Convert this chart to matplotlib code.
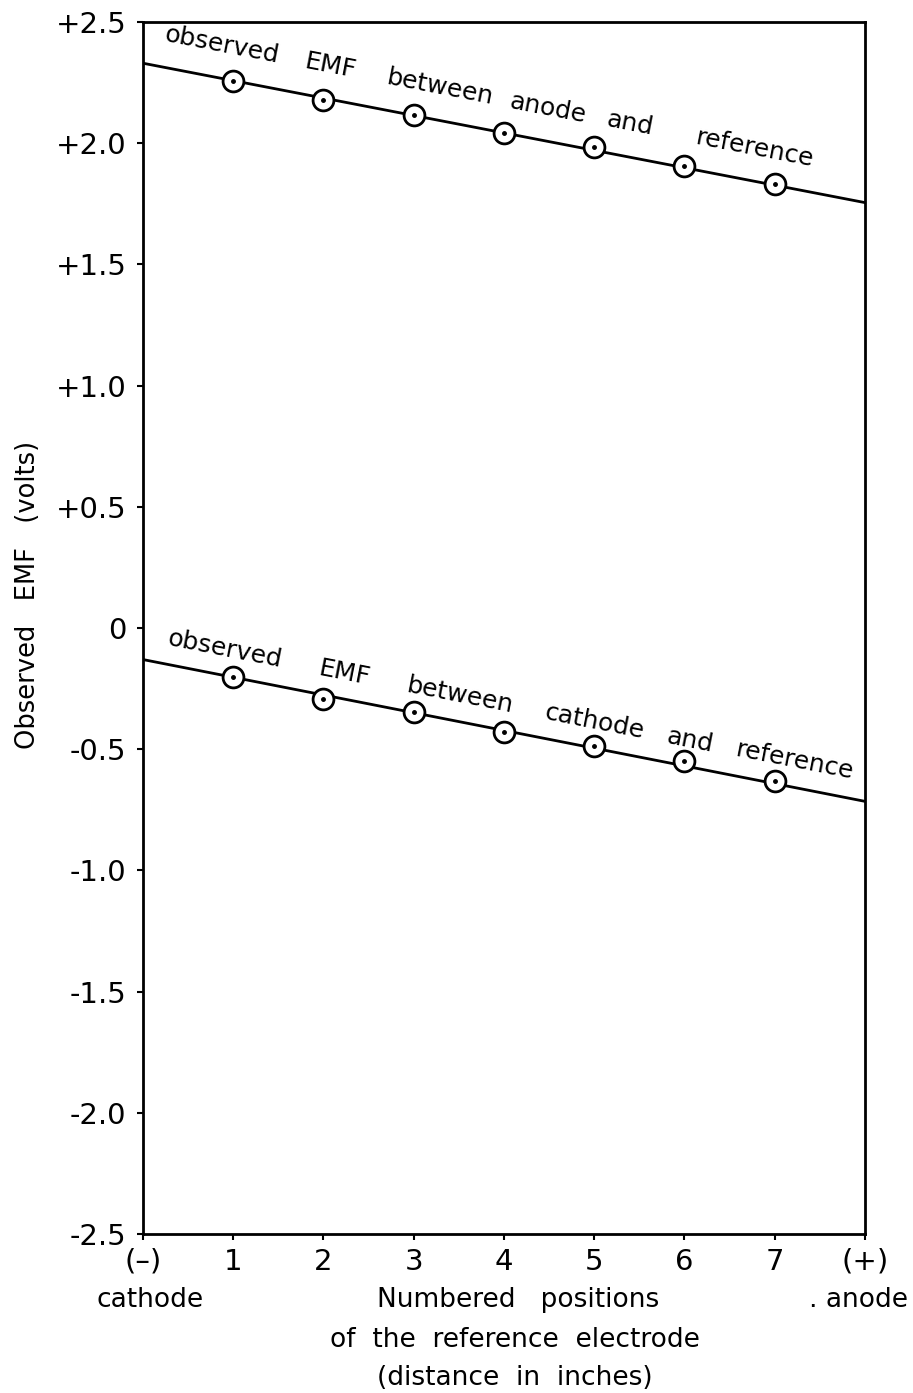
"""EMF between electrodes vs position of the reference electrode."""

import math

import matplotlib

matplotlib.use("Agg")
import matplotlib.pyplot as plt  # noqa: E402

# measured points (positions 1..7)
positions = [1, 2, 3, 4, 5, 6, 7]
emf_anode = [2.256, 2.178, 2.116, 2.041, 1.983, 1.905, 1.831]
emf_cathode = [-0.202, -0.293, -0.347, -0.43, -0.488, -0.55, -0.632]

# drawn straight lines, cathode (0) to anode (8)
line_x = [0, 8]
line_anode = [2.33, 1.755]
line_cathode = [-0.13, -0.715]

xticks = [0, 1, 2, 3, 4, 5, 6, 7, 8]
xtick_labels = ["(\u2013)", "1", "2", "3", "4", "5", "6", "7", "(+)"]
yticks = [2.5, 2.0, 1.5, 1.0, 0.5, 0.0, -0.5, -1.0, -1.5, -2.0, -2.5]
ytick_labels = ["+2.5", "+2.0", "+1.5", "+1.0", "+0.5", "0", "-0.5", "-1.0",
                "-1.5", "-2.0", "-2.5"]

# words along each line: (x position of word centre, word)
words_anode = [(0.875, "observed"), (2.08, "EMF"), (3.29, "between"),
               (4.49, "anode"), (5.39, "and"), (6.78, "reference")]
words_cathode = [(0.91, "observed"), (2.23, "EMF"), (3.51, "between"),
                 (5.0, "cathode"), (6.06, "and"), (7.22, "reference")]

FONT = "DejaVu Sans"


def interp(x, xs, ys):
    return ys[0] + (ys[1] - ys[0]) * (x - xs[0]) / (xs[1] - xs[0])


def main() -> None:
    plt.rcParams["font.family"] = FONT
    fig = plt.figure(figsize=(9.13, 13.93), dpi=100)
    ax = fig.add_axes([0.1566, 0.1141, 0.7908, 0.8701])

    for ly, py in ((line_anode, emf_anode), (line_cathode, emf_cathode)):
        ax.plot(line_x, ly, color="black", lw=2.0, zorder=2)
        ax.plot(positions, py, "o", ms=15, mfc="white", mec="black", mew=2.0,
                zorder=3)
        ax.plot(positions, py, "o", ms=2.5, color="black", zorder=4)

    ax.set_xlim(0, 8)
    ax.set_ylim(-2.5, 2.5)

    # words follow the lines, so take the angle on screen
    for words, ly, off in ((words_anode, line_anode, 24),
                           (words_cathode, line_cathode, 19)):
        p0 = ax.transData.transform((line_x[0], ly[0]))
        p1 = ax.transData.transform((line_x[1], ly[1]))
        ang = math.degrees(math.atan2(p1[1] - p0[1], p1[0] - p0[0]))
        for wx, w in words:
            ax.annotate(w, (wx, interp(wx, line_x, ly)), xytext=(0, off),
                        textcoords="offset points", rotation=ang,
                        rotation_mode="anchor", ha="center", va="center",
                        fontsize=18)

    ax.set_xticks(xticks)
    ax.set_xticklabels(xtick_labels, fontsize=21)
    ax.set_yticks(yticks)
    ax.set_yticklabels(ytick_labels, fontsize=21)
    ax.tick_params(axis="y", direction="out", length=4, width=1.5, pad=8)
    ax.tick_params(axis="x", direction="out", length=4, width=1.5, pad=6)
    for s in ax.spines.values():
        s.set_linewidth(2.0)

    fig.text(28 / 913, 1 - 595 / 1393, "Observed   EMF   (volts)",
             rotation=90, ha="center", va="center", fontsize=18.5)
    lab = dict(ha="center", va="center", fontsize=19)
    fig.text(150 / 913, 1 - 1300 / 1393, "cathode", **lab)
    fig.text(908 / 913, 1 - 1300 / 1393, ". anode", ha="right", va="center",
             fontsize=19)
    fig.text(518 / 913, 1 - 1300 / 1393, "Numbered   positions", **lab)
    fig.text(515 / 913, 1 - 1340 / 1393, "of  the  reference  electrode", **lab)
    fig.text(515 / 913, 1 - 1378 / 1393, "(distance  in  inches)", **lab)

    fig.savefig("out.png", facecolor="white")
    plt.close(fig)


if __name__ == "__main__":
    main()
